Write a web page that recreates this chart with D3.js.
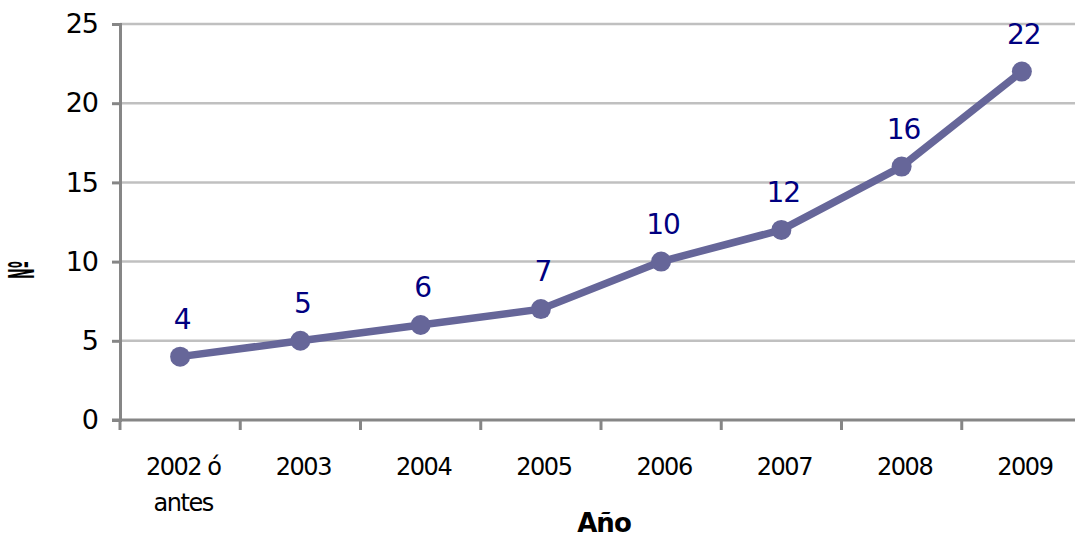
<!DOCTYPE html>
<html><head><meta charset="utf-8">
<script src="https://cdn.jsdelivr.net/npm/d3@7"></script>
<style>body{margin:0;background:#fff}svg{display:block}text{font-family:"DejaVu Sans",Verdana,sans-serif}</style>
</head><body>
<svg id="c" width="1075" height="537"></svg>
<script>
const categories = ["2002 ó antes","2003","2004","2005","2006","2007","2008","2009"];
const values = [4,5,6,7,10,12,16,22];
const yTicks = [0,5,10,15,20,25];
const xTitle = "Año";
const yTitle = "Nº";

const svg = d3.select("#c");
const x = d3.scaleBand().domain(categories).range([120,1082]);
const y = d3.scaleLinear().domain([0,25]).range([420,24]);

// gridlines
svg.append("g").selectAll("line").data(yTicks.filter(d=>d>0)).join("line")
  .attr("x1",120).attr("x2",1075).attr("y1",d=>y(d)).attr("y2",d=>y(d))
  .attr("stroke","#c0c0c0").attr("stroke-width",2.5);

// y axis
const ya = svg.append("g").attr("transform","translate(120,0)")
  .call(d3.axisLeft(y).tickValues(yTicks).tickSize(8).tickPadding(14));
ya.select(".domain").attr("stroke","#868686").attr("stroke-width",3);
ya.selectAll(".tick line").attr("stroke","#868686").attr("stroke-width",3);
ya.selectAll(".tick text").attr("font-size",27).attr("fill","#000").attr("font-family","DejaVu Sans").attr("letter-spacing","-1");

// x axis
const xa = svg.append("g").attr("transform","translate(0,420)")
  .call(d3.axisBottom(x).tickSize(0).tickFormat(""));
xa.select(".domain").attr("stroke","#868686").attr("stroke-width",3).attr("d","M112,0H1075");
svg.append("g").selectAll("line").data(categories).join("line")
  .attr("x1",d=>x(d)).attr("x2",d=>x(d)).attr("y1",420).attr("y2",430)
  .attr("stroke","#868686").attr("stroke-width",3);

const xl = svg.append("g").selectAll("text").data(categories).join("text")
  .attr("x",d=>x(d)+x.bandwidth()/2+3).attr("y",475)
  .attr("text-anchor","middle").attr("font-size",24).attr("letter-spacing","-1.5").attr("fill","#000");
xl.each(function(d){
  const parts = d === "2002 ó antes" ? ["2002 ó","antes"] : [d];
  const t = d3.select(this);
  parts.forEach((p,i)=>t.append("tspan").attr("x",x(d)+x.bandwidth()/2+3).attr("dy",i?36:0).text(p));
});

// line
svg.append("path").datum(values)
  .attr("d",d3.line().x((d,i)=>x(categories[i])+x.bandwidth()/2).y(d=>y(d)))
  .attr("fill","none").attr("stroke","#666699").attr("stroke-width",7.5).attr("stroke-linejoin","round");
svg.append("g").selectAll("circle").data(values).join("circle")
  .attr("cx",(d,i)=>x(categories[i])+x.bandwidth()/2).attr("cy",d=>y(d)).attr("r",10)
  .attr("fill","#666699");

// data labels
svg.append("g").selectAll("text").data(values).join("text")
  .attr("x",(d,i)=>x(categories[i])+x.bandwidth()/2+2).attr("y",d=>y(d)-28)
  .attr("text-anchor","middle").attr("font-size",28).attr("letter-spacing","-1").attr("fill","#000080").text(d=>d);

// titles
svg.append("text").attr("x",604).attr("y",532).attr("text-anchor","middle")
  .attr("font-size",26).attr("font-weight","bold").attr("letter-spacing","-1").text(xTitle);
svg.append("text").attr("transform","translate(34,270) rotate(-90)").attr("text-anchor","middle")
  .attr("font-size",36).attr("font-weight","bold").attr("textLength",18).attr("lengthAdjust","spacingAndGlyphs").text(yTitle);
</script>
</body></html>
